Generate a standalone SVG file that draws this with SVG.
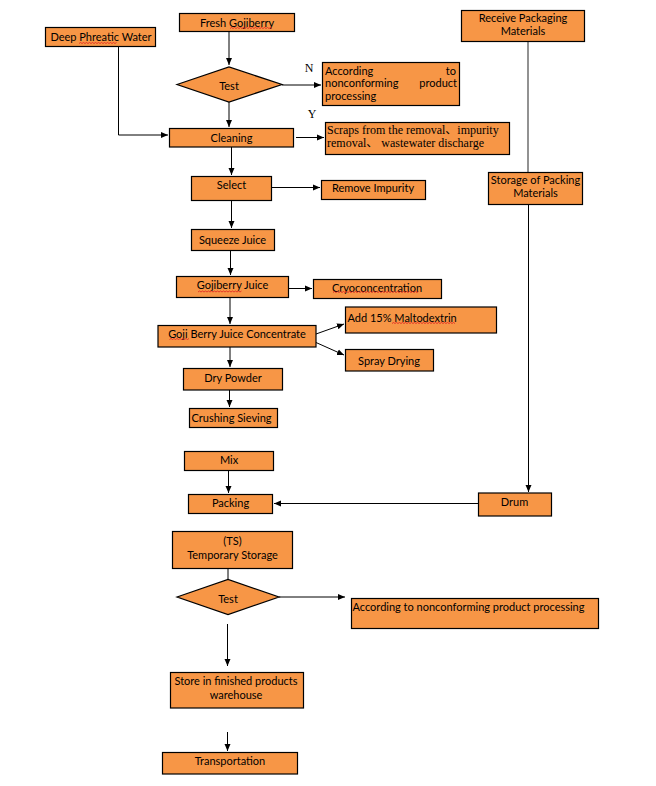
<svg xmlns="http://www.w3.org/2000/svg" width="656" height="786" viewBox="0 0 656 786">
<defs>
<marker id="ah" markerWidth="8" markerHeight="8" refX="7" refY="4" orient="auto" markerUnits="userSpaceOnUse">
<path d="M0,1 L7,4 L0,7 Z" fill="#000"/>
</marker>
<style>
.box{fill:#F79646;stroke:#000;stroke-width:1.2}
.t{font-family:Lato,"Liberation Sans",sans-serif;font-size:11px;fill:#000;text-anchor:middle;dominant-baseline:central}
.tl{text-anchor:start}
.s{font-family:"Liberation Serif","Noto Sans CJK SC",serif;font-size:12px;fill:#000;dominant-baseline:central}
.yn{font-family:"Liberation Serif","DejaVu Serif",serif;font-size:12px;fill:#000;dominant-baseline:central;text-anchor:middle}
.c{stroke:#000;stroke-width:1;fill:none}
.g{stroke:#777;stroke-width:1.6;fill:none}
.sq{stroke:#e02020;stroke-width:0.8;fill:none}
</style>
</defs>
<rect width="656" height="786" fill="#fff"/>

<g id="connectors">
<path class="c" d="M229,31 V65" marker-end="url(#ah)"/>
<path class="c" d="M229,102 V127" marker-end="url(#ah)"/>
<path class="c" d="M282,85 H321" marker-end="url(#ah)"/>
<path class="c" d="M118.5,46 V135 H168" marker-end="url(#ah)"/>
<path class="c" d="M296,137.5 H324" marker-end="url(#ah)"/>
<path class="c" d="M231.5,147 V175" marker-end="url(#ah)"/>
<path class="c" d="M271,187.5 H320" marker-end="url(#ah)"/>
<path class="c" d="M231.5,200 V228" marker-end="url(#ah)"/>
<path class="c" d="M230.5,250 V275" marker-end="url(#ah)"/>
<path class="c" d="M288,288.5 H312" marker-end="url(#ah)"/>
<path class="c" d="M230,298 V324" marker-end="url(#ah)"/>
<path class="c" d="M316,334 L344,324" marker-end="url(#ah)"/>
<path class="c" d="M316,342.5 L344,355" marker-end="url(#ah)"/>
<path class="c" d="M230,347 V367" marker-end="url(#ah)"/>
<path class="c" d="M229.5,390 V407" marker-end="url(#ah)"/>
<path class="c" d="M228.5,470 V493" marker-end="url(#ah)"/>
<path class="g" d="M528,41 V172"/>
<path class="c" d="M528.5,204 V492" marker-end="url(#ah)"/>
<path class="c" d="M478,503.5 H274" marker-end="url(#ah)"/>
<path class="c" d="M228,568 V579"/>
<path class="c" d="M279,597 H345" marker-end="url(#ah)"/>
<path class="c" d="M227.5,624 V666" marker-end="url(#ah)"/>
<path class="c" d="M227.5,732 V751" marker-end="url(#ah)"/>
<text class="yn" x="309" y="68">N</text>
<text class="yn" x="312" y="114">Y</text>
</g>

<g id="fresh"><rect class="box" x="179.5" y="13.5" width="115" height="18"/><text class="t" x="237" y="22.5">Fresh Gojiberry</text></g>
<g id="deepwater"><rect class="box" x="45.5" y="27.5" width="110" height="19"/><text class="t" x="101" y="36.5">Deep Phreatic Water</text></g>
<g id="test1"><polygon class="box" points="177,84.5 229,67 282,84.5 229,102"/><text class="t" x="229" y="85">Test</text></g>
<g id="nonconf1"><rect class="box" x="322.5" y="62.5" width="137" height="43"/>
<text class="t tl" x="325" y="70">According</text><text class="t" x="456" y="70" style="text-anchor:end">to</text>
<text class="t tl" x="325" y="82.5">nonconforming</text><text class="t" x="457" y="82.5" style="text-anchor:end">product</text>
<text class="t tl" x="325" y="95.5">processing</text></g>
<g id="receive"><rect class="box" x="461.5" y="10.5" width="123" height="31"/><text class="t" x="523" y="17.5">Receive Packaging</text><text class="t" x="523" y="30">Materials</text></g>
<g id="cleaning"><rect class="box" x="169.5" y="128.5" width="124" height="18.5"/><text class="t" x="231.5" y="137.5">Cleaning</text></g>
<g id="scraps"><rect class="box" x="325.5" y="122.5" width="184" height="32"/><text class="s" x="327" y="129.5">Scraps from the removal、impurity</text><text class="s" x="327" y="142.5">removal、 wastewater discharge</text></g>
<g id="storage"><rect class="box" x="488.5" y="172.5" width="94" height="32"/><text class="t" x="535.5" y="179.5">Storage of Packing</text><text class="t" x="535.5" y="192">Materials</text></g>
<g id="select"><rect class="box" x="191.5" y="176.5" width="80" height="24"/><text class="t" x="231.5" y="184.5">Select</text></g>
<g id="removeimp"><rect class="box" x="321.5" y="180.5" width="104" height="19"/><text class="t" x="373" y="187.5">Remove Impurity</text></g>
<g id="squeeze"><rect class="box" x="191.5" y="229.5" width="83" height="21"/><text class="t" x="232.5" y="239">Squeeze Juice</text></g>
<g id="juice"><rect class="box" x="176.5" y="276.5" width="112" height="21"/><text class="t" x="232.5" y="284.5">Gojiberry Juice</text></g>
<g id="cryo"><rect class="box" x="313.5" y="279.5" width="128" height="19"/><text class="t" x="377" y="287">Cryoconcentration</text></g>
<g id="concentrate"><rect class="box" x="158" y="325.5" width="158" height="21.5"/><text class="t" x="237" y="333.5">Goji Berry Juice Concentrate</text></g>
<g id="malto"><rect class="box" x="345.5" y="307" width="151" height="26"/><text class="t tl" x="347.5" y="317.5">Add 15% Maltodextrin</text></g>
<g id="spray"><rect class="box" x="345.5" y="349.5" width="88" height="21.5"/><text class="t" x="389" y="360">Spray Drying</text></g>
<g id="drypowder"><rect class="box" x="183.5" y="368.5" width="99" height="21.5"/><text class="t" x="233" y="377">Dry Powder</text></g>
<g id="crushing"><rect class="box" x="189.5" y="408.5" width="88" height="19"/><text class="t tl" x="191.5" y="417.5">Crushing Sieving</text></g>
<g id="mix"><rect class="box" x="184.5" y="451.5" width="89" height="19"/><text class="t" x="229" y="459.5">Mix</text></g>
<g id="packing"><rect class="box" x="188.5" y="494.5" width="84" height="19"/><text class="t" x="230.5" y="502">Packing</text></g>
<g id="drum"><rect class="box" x="478.5" y="493" width="73" height="23"/><text class="t" x="514.5" y="501">Drum</text></g>
<g id="ts"><rect class="box" x="172.5" y="531.5" width="120" height="37"/><text class="t" x="232.5" y="540">(TS)</text><text class="t" x="232.5" y="554.5">Temporary Storage</text></g>
<g id="test2"><polygon class="box" points="177,597 228,579.5 279,597 228,614.5"/><text class="t" x="228" y="598">Test</text></g>
<g id="nonconf2"><rect class="box" x="351.5" y="598.5" width="247" height="30"/><text class="t tl" x="352.5" y="606">According to nonconforming product processing</text></g>
<g id="store"><rect class="box" x="170.5" y="672.5" width="133" height="35.5"/><text class="t" x="236" y="680">Store in finished products</text><text class="t" x="236" y="694">warehouse</text></g>
<g id="transport"><rect class="box" x="162.5" y="752.5" width="135" height="21.5"/><text class="t" x="230" y="760.5">Transportation</text></g>

<g id="spellcheck">
<path class="sq" d="M230,28.5 l1.5,-1 l1.5,1 l1.5,-1 l1.5,1 l1.5,-1 l1.5,1 l1.5,-1 l1.5,1 l1.5,-1 l1.5,1 l1.5,-1 l1.5,1 l1.5,-1 l1.5,1 l1.5,-1 l1.5,1 l1.5,-1 l1.5,1 l1.5,-1 l1.5,1 l1.5,-1 l1.5,1 l1.5,-1 l1.5,1 l1.5,-1 l1.5,1 l1.5,-1 l1.5,1"/>
<path class="sq" d="M79,43.5 l1.5,-1 l1.5,1 l1.5,-1 l1.5,1 l1.5,-1 l1.5,1 l1.5,-1 l1.5,1 l1.5,-1 l1.5,1 l1.5,-1 l1.5,1 l1.5,-1 l1.5,1 l1.5,-1 l1.5,1 l1.5,-1 l1.5,1 l1.5,-1 l1.5,1 l1.5,-1 l1.5,1 l1.5,-1 l1.5,1 l1.5,-1"/>
<path class="sq" d="M198,292 l1.5,-1 l1.5,1 l1.5,-1 l1.5,1 l1.5,-1 l1.5,1 l1.5,-1 l1.5,1 l1.5,-1 l1.5,1 l1.5,-1 l1.5,1 l1.5,-1 l1.5,1 l1.5,-1 l1.5,1 l1.5,-1 l1.5,1 l1.5,-1 l1.5,1 l1.5,-1 l1.5,1 l1.5,-1 l1.5,1 l1.5,-1 l1.5,1 l1.5,-1 l1.5,1 l1.5,-1"/>
<path class="sq" d="M333,292.5 l1.5,-1 l1.5,1 l1.5,-1 l1.5,1 l1.5,-1 l1.5,1 l1.5,-1 l1.5,1 l1.5,-1 l1.5,1 l1.5,-1 l1.5,1 l1.5,-1 l1.5,1 l1.5,-1 l1.5,1 l1.5,-1 l1.5,1 l1.5,-1 l1.5,1 l1.5,-1 l1.5,1 l1.5,-1 l1.5,1 l1.5,-1 l1.5,1 l1.5,-1 l1.5,1 l1.5,-1 l1.5,1 l1.5,-1 l1.5,1 l1.5,-1 l1.5,1 l1.5,-1 l1.5,1 l1.5,-1 l1.5,1 l1.5,-1 l1.5,1 l1.5,-1 l1.5,1 l1.5,-1 l1.5,1 l1.5,-1 l1.5,1 l1.5,-1 l1.5,1 l1.5,-1 l1.5,1 l1.5,-1 l1.5,1 l1.5,-1 l1.5,1 l1.5,-1 l1.5,1 l1.5,-1"/>
<path class="sq" d="M169.5,339.5 l1.5,-1 l1.5,1 l1.5,-1 l1.5,1 l1.5,-1 l1.5,1 l1.5,-1 l1.5,1 l1.5,-1 l1.5,1 l1.5,-1 l1.5,1 l1.5,-1"/>
<path class="sq" d="M392,323.5 l1.5,-1 l1.5,1 l1.5,-1 l1.5,1 l1.5,-1 l1.5,1 l1.5,-1 l1.5,1 l1.5,-1 l1.5,1 l1.5,-1 l1.5,1 l1.5,-1 l1.5,1 l1.5,-1 l1.5,1 l1.5,-1 l1.5,1 l1.5,-1 l1.5,1 l1.5,-1 l1.5,1 l1.5,-1 l1.5,1 l1.5,-1 l1.5,1 l1.5,-1 l1.5,1 l1.5,-1 l1.5,1 l1.5,-1 l1.5,1 l1.5,-1 l1.5,1 l1.5,-1 l1.5,1 l1.5,-1 l1.5,1 l1.5,-1 l1.5,1 l1.5,-1 l1.5,1"/>
</g>
</svg>
